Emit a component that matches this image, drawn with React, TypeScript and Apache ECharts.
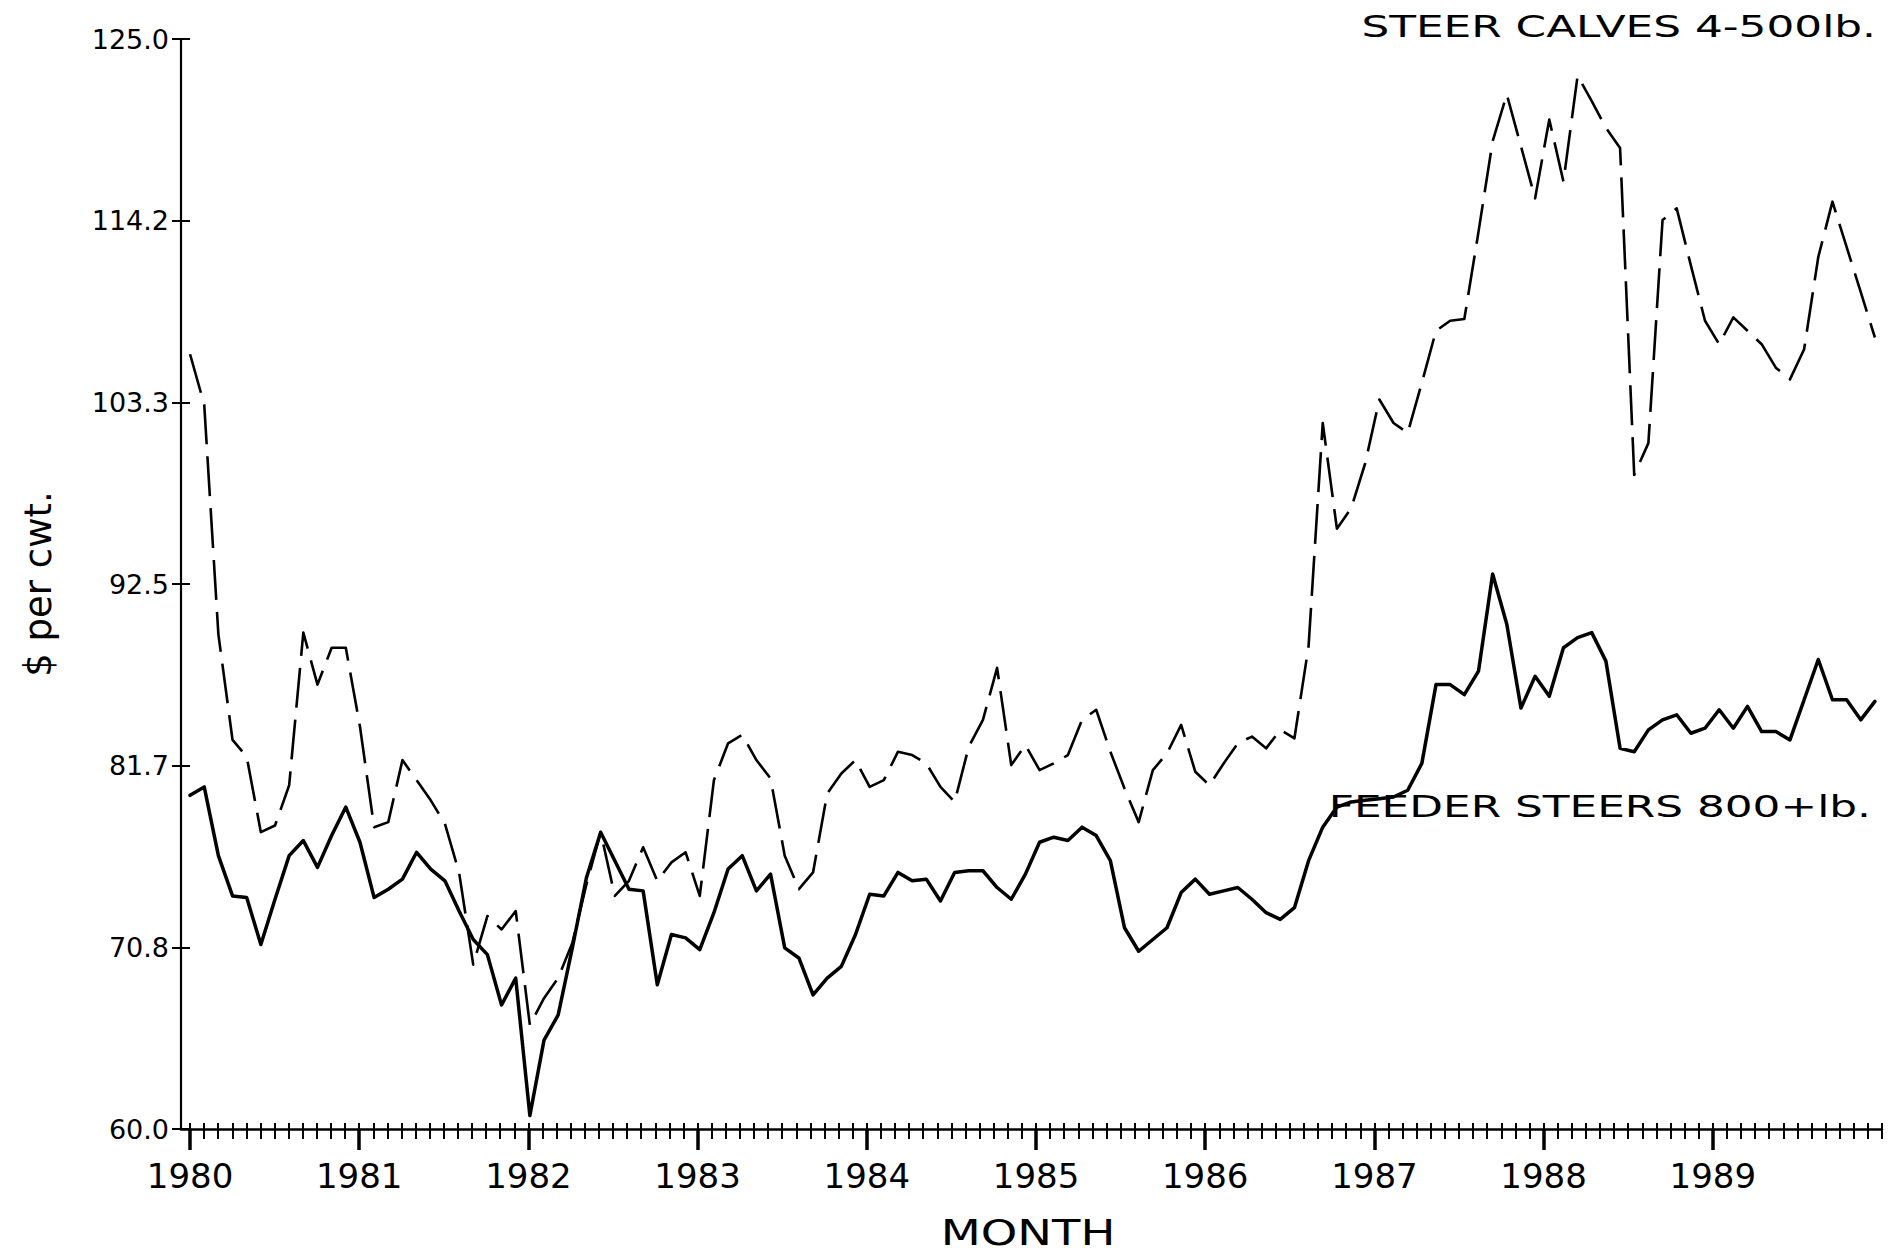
import React, { useEffect, useRef } from 'react';
import * as echarts from 'echarts';

// ---- data (monthly, Jan 1980 .. Dec 1989) ----
const yearLabels = ['1980', '1981', '1982', '1983', '1984', '1985', '1986', '1987', '1988', '1989'];
const yTickValues = [60, 70.8333, 81.6667, 92.5, 103.3333, 114.1667, 125];
const seriesLabels = ['STEER CALVES 4-500lb.', 'FEEDER STEERS 800+lb.'];
const xAxisTitle = 'MONTH';
const yAxisTitle = '$ per cwt.';

// solid line
const feederSteers = [
  79.9, 80.4, 76.3, 73.9, 73.8, 71.0, 73.7, 76.3, 77.2, 75.6, 77.5, 79.2,
  77.1, 73.8, 74.3, 74.9, 76.5, 75.5, 74.8, 73.0, 71.3, 70.4, 67.4, 69.0,
  60.8, 65.3, 66.8, 70.8, 75.0, 77.7, 76.0, 74.3, 74.2, 68.6, 71.6, 71.4,
  70.7, 72.9, 75.5, 76.3, 74.2, 75.2, 70.8, 70.2, 68.0, 69.0, 69.7, 71.6,
  74.0, 73.9, 75.3, 74.8, 74.9, 73.6, 75.3, 75.4, 75.4, 74.4, 73.7, 75.2,
  77.1, 77.4, 77.2, 78.0, 77.5, 76.0, 72.0, 70.6, 71.3, 72.0, 74.1, 74.9,
  74.0, 74.2, 74.4, 73.7, 72.9, 72.5, 73.2, 76.0, 78.0, 79.2, 79.5, 79.6,
  79.7, 79.8, 80.2, 81.8, 86.5, 86.5, 85.9, 87.3, 93.1, 90.1, 85.1, 87.0,
  85.8, 88.7, 89.3, 89.6, 87.9, 82.7, 82.5, 83.8, 84.4, 84.7, 83.6, 83.9,
  85.0, 83.9, 85.2, 83.7, 83.7, 83.2, 85.6, 88.0, 85.6, 85.6, 84.4, 85.5,
];

// dashed line
const steerCalves = [
  106.2, 103.2, 89.5, 83.2, 82.2, 77.7, 78.1, 80.5, 89.6, 86.5, 88.7, 88.7,
  84.0, 78.0, 78.3, 82.0, 80.8, 79.6, 78.2, 75.3, 69.8, 72.7, 71.9, 73.0,
  66.2, 67.8, 69.0, 71.1, 74.6, 77.7, 73.9, 74.8, 76.8, 74.8, 75.9, 76.5,
  73.9, 80.8, 83.0, 83.5, 82.0, 80.9, 76.3, 74.3, 75.3, 80.0, 81.2, 82.0,
  80.4, 80.8, 82.5, 82.3, 81.8, 80.4, 79.5, 82.8, 84.4, 87.5, 81.7, 82.9,
  81.4, 81.8, 82.3, 84.4, 85.0, 82.5, 80.3, 78.3, 81.4, 82.4, 84.1, 81.3,
  80.5, 81.8, 83.0, 83.4, 82.7, 83.8, 83.3, 88.8, 102.1, 95.8, 97.0, 99.7,
  103.5, 102.1, 101.5, 104.5, 107.6, 108.2, 108.3, 113.5, 118.9, 121.7, 118.6, 115.5,
  120.2, 116.5, 122.8, 121.3, 119.7, 118.5, 99.0, 100.9, 114.2, 114.9, 111.5, 108.2,
  106.8, 108.4, 107.6, 106.8, 105.4, 104.7, 106.5, 112.0, 115.3, 112.6, 109.9, 107.2,
];

const FONT = "'DejaVu Sans', 'Liberation Sans', sans-serif";
const INK = '#000000';

export default function App() {
  const ref = useRef<HTMLDivElement | null>(null);

  useEffect(() => {
    if (!ref.current) return;
    const chart = echarts.init(ref.current, undefined, { renderer: 'svg' });

    const monthsPerYear = 12;
    const totalMonths = yearLabels.length * monthsPerYear;
    const monthTicks = Array.from({ length: totalMonths + 1 }, (_, i) => i);
    const yearTicks = yearLabels.map((_, k) => k * monthsPerYear);

    const baseTickAxis = {
      type: 'value',
      min: -0.64,
      max: totalMonths,
      position: 'bottom',
      offset: 0,
      splitLine: { show: false },
      axisLabel: { show: false },
    };

    const textStyleBase = {
      fontFamily: FONT,
      fontSize: 30,
      fill: INK,
      verticalAlign: 'middle',
      textVerticalAlign: 'middle',
    };

    const option: any = {
      animation: false,
      backgroundColor: '#ffffff',
      textStyle: { fontFamily: FONT, color: INK },
      grid: {
        left: 181,
        right: 17,
        top: 39,
        bottom: 124,
        containLabel: false,
        outerBoundsMode: 'none',
      },
      xAxis: [
        // data axis (hidden)
        { type: 'value', min: -0.64, max: 119.5, show: false, position: 'bottom' },
        // monthly ticks, upper half
        {
          ...baseTickAxis,
          axisLine: { show: true, onZero: false, lineStyle: { color: INK, width: 2.5 } },
          axisTick: { show: true, inside: true, length: 6, customValues: monthTicks, lineStyle: { color: INK, width: 2 } },
        },
        // monthly ticks, lower half
        {
          ...baseTickAxis,
          axisLine: { show: false, onZero: false },
          axisTick: { show: true, inside: false, length: 10, customValues: monthTicks, lineStyle: { color: INK, width: 2 } },
        },
        // yearly ticks + labels
        {
          ...baseTickAxis,
          axisLine: { show: false, onZero: false },
          axisTick: { show: true, inside: false, length: 21, customValues: yearTicks, lineStyle: { color: INK, width: 3.5 } },
          axisLabel: {
            show: true,
            customValues: yearTicks,
            formatter: (v: number) => yearLabels[Math.round(v / monthsPerYear)] ?? '',
            margin: 30,
            color: INK,
            fontFamily: FONT,
            fontSize: 34,
          },
        },
      ],
      yAxis: [
        {
          type: 'value',
          min: 60,
          max: 125,
          position: 'left',
          offset: 0,
          axisLine: { show: true, onZero: false, lineStyle: { color: INK, width: 2.2 } },
          axisTick: { show: true, inside: false, length: 9, customValues: yTickValues, lineStyle: { color: INK, width: 2 } },
          axisLabel: {
            show: true,
            customValues: yTickValues,
            formatter: (v: number) => v.toFixed(1),
            margin: 12,
            color: INK,
            fontFamily: FONT,
            fontSize: 27,
          },
          splitLine: { show: false },
          name: yAxisTitle,
          nameLocation: 'middle',
          nameGap: 124,
          nameTextStyle: { color: INK, fontFamily: FONT, fontSize: 37 },
        },
        {
          type: 'value',
          min: 60,
          max: 125,
          position: 'left',
          offset: 0,
          axisLine: { show: false, onZero: false },
          axisTick: { show: true, inside: true, length: 9, customValues: yTickValues, lineStyle: { color: INK, width: 2 } },
          axisLabel: { show: false },
          splitLine: { show: false },
        },
      ],
      series: [
        {
          type: 'line',
          name: seriesLabels[1],
          xAxisIndex: 0,
          yAxisIndex: 0,
          data: feederSteers.map((v, i) => [i, v]),
          symbol: 'none',
          showSymbol: false,
          lineStyle: { color: INK, width: 3.5, join: 'round', cap: 'round' },
          z: 3,
        },
        {
          type: 'line',
          name: seriesLabels[0],
          xAxisIndex: 0,
          yAxisIndex: 0,
          data: steerCalves.map((v, i) => [i, v]),
          symbol: 'none',
          showSymbol: false,
          lineStyle: { color: INK, width: 2.6, type: [40, 12], join: 'round' },
          z: 3,
        },
      ],
      graphic: [
        {
          type: 'text',
          x: 1876,
          y: 27,
          scaleX: 1.46,
          z: 10,
          style: { ...textStyleBase, text: seriesLabels[0], align: 'right', textAlign: 'right' },
        },
        {
          type: 'text',
          x: 1871,
          y: 807,
          scaleX: 1.46,
          z: 10,
          style: { ...textStyleBase, text: seriesLabels[1], align: 'right', textAlign: 'right' },
        },
        {
          type: 'text',
          x: 1028,
          y: 1232,
          scaleX: 1.29,
          z: 10,
          style: {
            ...textStyleBase,
            fontSize: 36,
            text: xAxisTitle,
            align: 'center',
            textAlign: 'center',
          },
        },
      ],
    };

    chart.setOption(option);
    return () => {
      chart.dispose();
    };
  }, []);

  return (
    <div
      ref={ref}
      style={{ position: 'fixed', left: 0, top: 0, width: 1899, height: 1253, background: '#ffffff' }}
    />
  );
}
